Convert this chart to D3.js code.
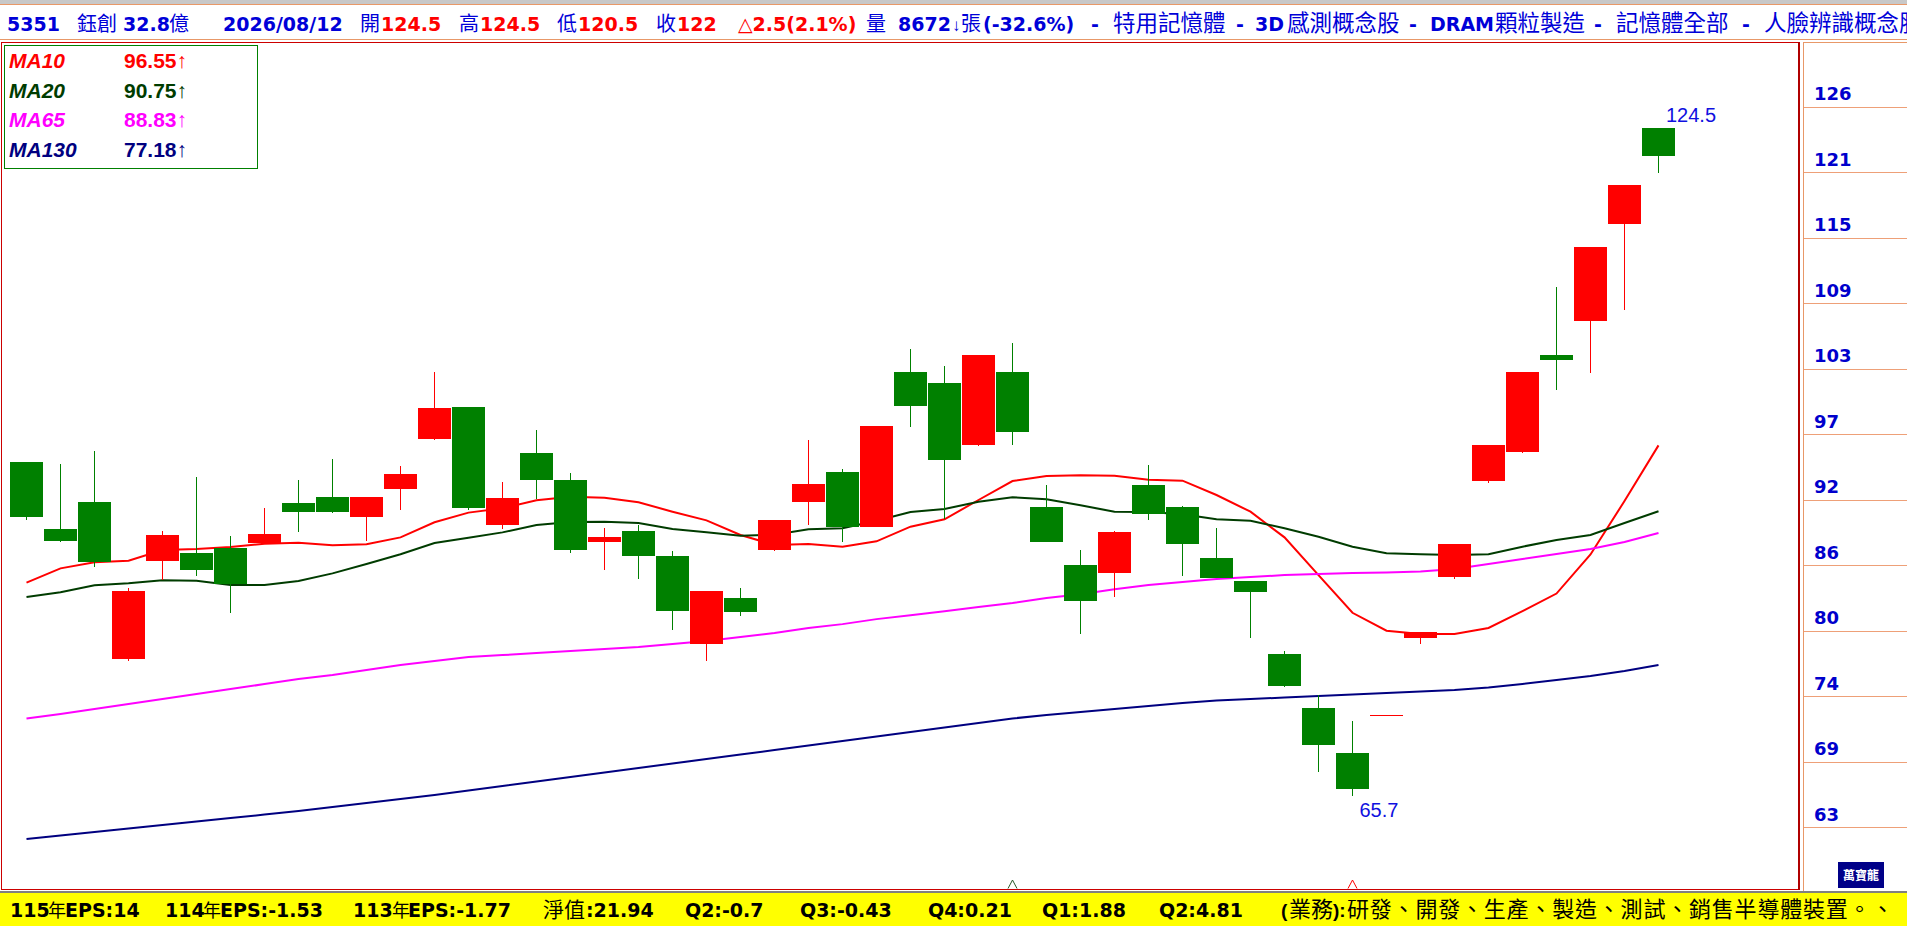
<!DOCTYPE html>
<html>
<head>
<meta charset="utf-8">
<script src="https://cdn.jsdelivr.net/npm/d3@7"></script>
<style>
  body { margin: 0; background: #fff; overflow: hidden; }
  svg { display: block; }
</style>
</head>
<body>
<svg id="chart"></svg>
<script>
// daily candles, oldest first (price)
const opens = [95.1, 89.2, 91.55, 77.7, 86.4, 87.05, 87.5, 87.95, 91.45, 92.0,
  90.2, 92.75, 97.1, 99.9, 89.55, 95.9, 93.5, 88.0, 89.0, 86.8,
  79.05, 83.1, 87.35, 91.6, 94.2, 89.4, 103.0, 102.05, 96.6, 103.0,
  91.1, 86.0, 85.35, 93.05, 91.1, 86.65, 84.6, 78.2, 73.4, 69.45,
  72.8, 79.6, 85.0, 93.45, 96.0, 104.5, 107.5, 116.05, 124.5];
const highs = [95.1, 94.9, 96.05, 84.0, 89.0, 93.75, 88.55, 91.05, 93.5, 95.35,
  92.0, 94.75, 103.0, 99.9, 93.3, 97.9, 94.1, 89.25, 89.55, 87.25,
  83.75, 84.0, 90.0, 97.0, 94.45, 98.25, 105.05, 103.55, 104.5, 105.55,
  93.05, 87.35, 89.0, 94.8, 91.2, 89.25, 84.6, 78.45, 74.55, 72.3,
  72.8, 80.1, 87.85, 96.6, 103.0, 110.5, 114.0, 119.5, 124.5];
const lows = [90.0, 88.0, 85.8, 77.6, 84.7, 85.05, 81.8, 87.95, 88.9, 90.6,
  88.15, 90.9, 97.05, 90.85, 89.2, 91.85, 87.1, 85.55, 84.8, 80.3,
  77.6, 81.55, 87.25, 89.55, 88.0, 89.35, 98.2, 90.05, 96.5, 96.6,
  88.0, 79.95, 83.2, 90.0, 85.05, 84.9, 79.6, 75.25, 67.8, 65.7,
  72.8, 79.1, 84.8, 93.2, 95.85, 101.45, 102.95, 108.5, 120.5];
const closes = [90.2, 88.15, 86.3, 83.75, 88.65, 85.6, 84.35, 88.75, 90.7, 90.7,
  92.0, 94.05, 99.85, 91.05, 91.9, 93.5, 87.35, 88.5, 86.85, 82.0,
  83.75, 81.9, 90.0, 93.15, 89.4, 98.25, 100.05, 95.3, 104.5, 97.75,
  88.05, 82.85, 88.9, 90.5, 87.9, 84.9, 83.65, 75.4, 70.2, 66.25,
  72.8, 80.1, 87.85, 96.6, 103.0, 104.1, 114.0, 119.5, 122.0];

// moving averages as drawn
const ma10 = [84.46, 85.72, 86.25, 86.4, 87.34, 87.42, 87.6, 87.89, 87.98, 87.75,
  87.84, 88.45, 89.78, 90.63, 91.01, 91.71, 92.03, 91.94, 91.54, 90.71,
  89.95, 88.66, 87.78, 87.86, 87.63, 88.1, 89.39, 90.04, 91.74, 93.41,
  93.85, 93.91, 93.88, 93.53, 93.44, 92.18, 90.71, 88.45, 85.13, 81.81,
  80.23, 79.94, 79.94, 80.47, 81.96, 83.5, 86.94, 91.65, 96.55];
const ma20 = [83.2, 83.61, 84.23, 84.4, 84.67, 84.63, 84.25, 84.25, 84.6, 85.28,
  86.1, 86.96, 87.95, 88.42, 88.89, 89.54, 89.8, 89.83, 89.71, 89.19,
  88.89, 88.6, 88.68, 89.16, 89.25, 89.92, 90.68, 90.95, 91.59, 91.98,
  91.8, 91.27, 90.71, 90.68, 90.48, 90.04, 89.92, 89.25, 88.51, 87.63,
  87.05, 86.96, 86.9, 86.96, 87.63, 88.22, 88.66, 89.71, 90.75];
const ma65 = [72.49, 72.89, 73.33, 73.77, 74.21, 74.65, 75.09, 75.53, 75.97, 76.33,
  76.77, 77.21, 77.56, 77.91, 78.08, 78.26, 78.44, 78.61, 78.79, 79.06,
  79.32, 79.67, 80.02, 80.46, 80.81, 81.25, 81.6, 81.95, 82.31, 82.66,
  83.1, 83.45, 83.89, 84.25, 84.51, 84.78, 84.95, 85.13, 85.22, 85.31,
  85.35, 85.44, 85.66, 86.1, 86.54, 86.98, 87.42, 88.04, 88.83];
const ma130 = [61.88, 62.19, 62.5, 62.81, 63.12, 63.43, 63.73, 64.04, 64.35, 64.7,
  65.05, 65.41, 65.76, 66.16, 66.55, 66.95, 67.34, 67.74, 68.14, 68.53,
  68.93, 69.33, 69.72, 70.12, 70.52, 70.91, 71.31, 71.7, 72.1, 72.5,
  72.81, 73.07, 73.33, 73.6, 73.86, 74.08, 74.21, 74.35, 74.48, 74.61,
  74.74, 74.87, 75.01, 75.23, 75.54, 75.89, 76.24, 76.68, 77.21];

const maNames = ["MA10", "MA20", "MA65", "MA130"];
const maLast = ["96.55↑", "90.75↑", "88.83↑", "77.18↑"];
const maColors = ["#ff0000", "#003c00", "#ff00ff", "#000080"];

const priceTicks = ["126", "121", "115", "109", "103", "97", "92", "86", "80", "74", "69", "63"];

// marked candles (index) under the plot
const markIdx = [29, 39];
const markColors = ["#2a5a2a", "#ff0000"];

const headerTexts = ["5351", "鈺創", "32.8", "億", "2026/08/12", "開", "124.5", "高", "124.5",
  "低", "120.5", "收", "122", "△2.5(2.1%)", "量", "8672", "↓", "張", "(-32.6%)", "-", "特用記憶體",
  "-", "3D", "感測概念股", "-", "DRAM", "顆粒製造", "-", "記憶體全部", "-", "人臉辨識概念股"];
const headerRed = [6, 8, 10, 12, 13];

const footerTexts = ["115", "年", "EPS:14", "114", "年", "EPS:-1.53", "113", "年", "EPS:-1.77",
  "淨值", ":21.94", "Q2:-0.7", "Q3:-0.43", "Q4:0.21", "Q1:1.88", "Q2:4.81",
  "(", "業務", "):", "研發、開發、生產、製造、測試、銷售半導體裝置。、"];

// ---- layout ----
const W = 1907, H = 926;
const headerX = [7, 77, 123, 169, 223, 360, 381, 459, 480, 557, 578, 656, 677, 738, 866, 898,
  952, 961, 983, 1091, 1113, 1236, 1255, 1287, 1409, 1430, 1495, 1594, 1616, 1742, 1764];
// font size per header piece
const headerSize = [19, 20, 19, 20, 19, 20, 19, 20, 19, 20, 19, 20, 19, 19, 20, 19,
  17, 20, 19, 19, 22.5, 19, 19, 22.5, 19, 19, 22.5, 19, 22.5, 19, 22.5];
const footerX = [10, 48, 65, 165, 203, 220, 353, 392, 408, 543, 586, 685, 800, 928, 1042, 1159,
  1281, 1289, 1333, 1347];
const footerSize = [19, 18, 19, 19, 18, 19, 19, 18, 19, 21, 19, 19, 19, 19, 19, 19,
  19, 22, 19, 22];

const latinFont = "'DejaVu Sans', 'Noto Sans CJK TC', sans-serif";
const narrowFont = "'Liberation Sans', 'DejaVu Sans', sans-serif";
const cjkFont = "'Noto Sans CJK TC', 'Noto Sans CJK SC', sans-serif";
const isCjk = (s) => /[\u3400-\u9fff]/.test(s);
const pieceFont = (d) => (isCjk(d) ? cjkFont : /^[↓():]+$/.test(d) ? narrowFont : latinFont);

const svg = d3.select("#chart").attr("width", W).attr("height", H);

svg.append("rect").attr("width", W).attr("height", H).attr("fill", "#fff");

// header strip
svg.append("rect").attr("x", 0).attr("y", 0).attr("width", W).attr("height", 4).attr("fill", "#c8c8c8");
svg.append("line").attr("x1", 0).attr("x2", W).attr("y1", 4.5).attr("y2", 4.5).attr("stroke", "#e89868");
svg.append("line").attr("x1", 0).attr("x2", W).attr("y1", 39.5).attr("y2", 39.5).attr("stroke", "#e89868");

svg.append("g")
  .selectAll("text")
  .data(headerTexts)
  .enter()
  .append("text")
  .attr("x", (d, i) => headerX[i])
  .attr("y", 31)
  .attr("fill", (d, i) => (headerRed.includes(i) ? "#ff0000" : "#0000d8"))
  .attr("font-family", pieceFont)
  .attr("font-size", (d, i) => headerSize[i])
  .attr("font-weight", (d) => (isCjk(d) ? "normal" : "bold"))
  .text((d) => d);

// plot frame
const plot = { left: 2, top: 42, right: 1800, bottom: 889 };
svg.append("rect")
  .attr("x", plot.left - 0.5).attr("y", plot.top + 0.5)
  .attr("width", plot.right - plot.left).attr("height", plot.bottom - plot.top)
  .attr("fill", "none").attr("stroke", "#cc0000");
svg.append("line").attr("x1", plot.right - 1).attr("x2", plot.right - 1)
  .attr("y1", plot.top).attr("y2", plot.bottom + 1).attr("stroke", "#b00000").attr("stroke-width", 2);

// axis panel
svg.append("line").attr("x1", 1803.5).attr("x2", 1803.5).attr("y1", plot.top).attr("y2", 891)
  .attr("stroke", "#e89868");
svg.append("line").attr("x1", 1803).attr("x2", W).attr("y1", plot.top + 0.5).attr("y2", plot.top + 0.5)
  .attr("stroke", "#e89868");

const x = d3.scaleLinear().domain([0, opens.length - 1]).range([26.5, 1658.5]);
const y = d3.scaleLinear().domain([65.7, 124.5]).range([795.7, 128]);
const yTick = d3.scalePoint().domain(priceTicks).range([106.5, 827]);
const bodyW = 33;

const axisG = svg.append("g");
axisG.selectAll("line")
  .data(priceTicks)
  .enter()
  .append("line")
  .attr("x1", 1804).attr("x2", W)
  .attr("y1", (d) => Math.round(yTick(d)) + 0.5)
  .attr("y2", (d) => Math.round(yTick(d)) + 0.5)
  .attr("stroke", "#eea078");
axisG.selectAll("text")
  .data(priceTicks)
  .enter()
  .append("text")
  .attr("x", 1814)
  .attr("y", (d) => yTick(d) - 6.5)
  .attr("fill", "#0000cc")
  .attr("font-family", latinFont)
  .attr("font-size", 18)
  .attr("font-weight", "bold")
  .text((d) => d);

// logo
svg.append("rect").attr("x", 1838).attr("y", 862).attr("width", 46).attr("height", 26).attr("fill", "#000088");
svg.append("text").attr("x", 1861).attr("y", 880).attr("text-anchor", "middle")
  .attr("fill", "#fff").attr("font-family", cjkFont).attr("font-size", 12).attr("font-weight", "bold")
  .text("萬寶龍");

// moving average lines
const maSeries = [ma10, ma20, ma65, ma130];
const line = d3.line().x((d, i) => x(i)).y((d) => y(d));
svg.append("g")
  .selectAll("path")
  .data(maSeries)
  .enter()
  .append("path")
  .attr("d", line)
  .attr("fill", "none")
  .attr("stroke", (d, i) => maColors[i])
  .attr("stroke-width", 2);

// candles (red = up, green = down)
const candles = opens.map((o, i) => ({ i, o, h: highs[i], l: lows[i], c: closes[i] }));
const candleColor = (d) => (d.c >= d.o ? "#ff0000" : "#008000");

const cg = svg.append("g").attr("shape-rendering", "crispEdges");
cg.selectAll("line")
  .data(candles)
  .enter()
  .append("line")
  .attr("x1", (d) => Math.floor(x(d.i)) + 0.5)
  .attr("x2", (d) => Math.floor(x(d.i)) + 0.5)
  .attr("y1", (d) => y(d.h))
  .attr("y2", (d) => y(d.l))
  .attr("stroke", candleColor);
cg.selectAll("rect")
  .data(candles)
  .enter()
  .append("rect")
  .attr("x", (d) => x(d.i) - bodyW / 2)
  .attr("width", bodyW)
  .attr("y", (d) => y(Math.max(d.o, d.c)))
  .attr("height", (d) => Math.max(1, Math.abs(y(d.o) - y(d.c))))
  .attr("fill", candleColor);

// high / low labels
const hiI = d3.maxIndex(highs);
const loI = d3.minIndex(lows);
svg.append("text").attr("x", x(hiI) + 7.5).attr("y", y(highs[hiI]) - 6)
  .attr("fill", "#1010e0").attr("font-family", "'Liberation Sans', sans-serif").attr("font-size", 20)
  .text(highs[hiI]);
svg.append("text").attr("x", x(loI) + 7).attr("y", y(lows[loI]) + 21.5)
  .attr("fill", "#1010e0").attr("font-family", "'Liberation Sans', sans-serif").attr("font-size", 20)
  .text(lows[loI]);

// small markers at the bottom edge
svg.append("g")
  .selectAll("path")
  .data(markIdx)
  .enter()
  .append("path")
  .attr("d", (d) => `M${x(d) - 4.5},${plot.bottom - 0.5}L${x(d)},${plot.bottom - 9}L${x(d) + 4.5},${plot.bottom - 0.5}`)
  .attr("fill", "none")
  .attr("stroke", (d, i) => markColors[i]);

// MA legend box
const lg = svg.append("g");
lg.append("rect").attr("x", 4.5).attr("y", 45.5).attr("width", 253).attr("height", 123)
  .attr("fill", "#fff").attr("stroke", "#008000");
lg.selectAll("text.name")
  .data(maNames)
  .enter()
  .append("text")
  .attr("class", "name")
  .attr("x", 9)
  .attr("y", (d, i) => 68 + i * 29.7)
  .attr("fill", (d, i) => maColors[i])
  .attr("font-family", "'Liberation Sans', sans-serif")
  .attr("font-size", 21)
  .attr("font-style", "italic")
  .attr("font-weight", "bold")
  .text((d) => d);
lg.selectAll("text.val")
  .data(maLast)
  .enter()
  .append("text")
  .attr("class", "val")
  .attr("x", 124)
  .attr("y", (d, i) => 68 + i * 29.7)
  .attr("fill", (d, i) => maColors[i])
  .attr("font-family", "'Liberation Sans', 'DejaVu Sans', sans-serif")
  .attr("font-size", 21)
  .attr("font-weight", "bold")
  .text((d) => d);

// footer
svg.append("rect").attr("x", 0).attr("y", 891).attr("width", W).attr("height", 2).attr("fill", "#808080");
svg.append("rect").attr("x", 0).attr("y", 893).attr("width", W).attr("height", H - 893).attr("fill", "#ffff00");
svg.append("g")
  .selectAll("text")
  .data(footerTexts)
  .enter()
  .append("text")
  .attr("x", (d, i) => footerX[i])
  .attr("y", 917)
  .attr("fill", "#000")
  .attr("font-family", pieceFont)
  .attr("font-size", (d, i) => footerSize[i])
  .attr("font-weight", (d) => (isCjk(d) ? "normal" : "bold"))
  .attr("letter-spacing", (d, i) => (i === footerTexts.length - 1 ? 0.8 : null))
  .text((d) => d);
</script>
</body>
</html>
